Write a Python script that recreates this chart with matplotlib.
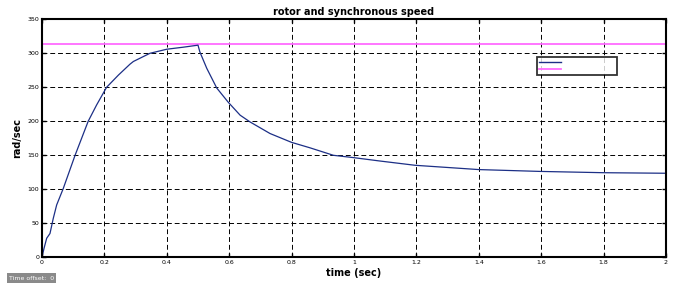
import numpy as np
import matplotlib
matplotlib.use("Agg")
from matplotlib import pyplot as plt
from matplotlib.lines import Line2D

# values
t_rotor = [0.0, 0.0064, 0.015, 0.0256, 0.036, 0.047, 0.068, 0.106, 0.127, 0.148,
           0.175, 0.207, 0.245, 0.282, 0.293, 0.346, 0.40, 0.453, 0.496, 0.50,
           0.506, 0.528, 0.56, 0.597, 0.635, 0.667, 0.731, 0.80, 0.859, 0.934,
           1.0, 1.083, 1.196, 1.40, 1.596, 1.80, 2.0]
w_rotor = [0, 13, 28, 35, 57, 77, 101, 150, 175, 200,
           224, 250, 268, 284, 288, 300, 306, 309, 311.7, 312,
           302, 278, 249, 228, 209, 199, 182, 169, 161, 150,
           146.5, 141.6, 135.3, 129, 126.3, 124.4, 123.6]
t_sync = [0.0, 2.0]
w_sync = [314.16, 314.16]

xticks = [0, 0.2, 0.4, 0.6, 0.8, 1, 1.2, 1.4, 1.6, 1.8, 2]
xticklabels = ["0", "0.2", "0.4", "0.6", "0.8", "1", "1.2", "1.4", "1.6", "1.8", "2"]
yticks = [0, 50, 100, 150, 200, 250, 300, 350]

blue = "#1c2f86"
pink = "#ff6bff"

fig = plt.figure(figsize=(6.75, 2.84), dpi=100)
ax = fig.add_axes([42/675, 1-257.3/284, 624/675, 238/284])

ax.plot(t_sync, w_sync, color=pink, lw=1.3)
ax.plot(t_rotor, w_rotor, color=blue, lw=0.9)

ax.set_xlim(0, 2)
ax.set_ylim(0, 350)
ax.set_xticks(xticks)
ax.set_xticklabels(xticklabels)
ax.set_yticks(yticks)
ax.tick_params(direction="in", length=3, width=1, labelsize=4.5, pad=2,
               top=True, right=True)
ax.grid(True, color="black", ls=(0, (5, 3)), lw=0.7)
for s in ax.spines.values():
    s.set_linewidth(1.5)

ax.set_title("rotor and synchronous speed", fontsize=7, fontweight="bold", pad=3)
ax.set_xlabel("time (sec)", fontsize=7, fontweight="bold", labelpad=2)
ax.set_ylabel("rad/sec", fontsize=7, fontweight="bold", labelpad=4)

# empty legend box with two line samples
handles = [Line2D([], [], color=blue, lw=1.0), Line2D([], [], color=pink, lw=1.3)]
leg = ax.legend(handles, ["", ""], loc="upper left",
                bbox_to_anchor=((536.7-42)/624, (257.3-57.3)/238, (616.7-536.7)/624, 0),
                mode="expand", fontsize=4, frameon=True, fancybox=False,
                handlelength=4, handletextpad=0, borderpad=0.45, labelspacing=0.45,
                borderaxespad=0)
leg.get_frame().set_edgecolor("black")
leg.get_frame().set_linewidth(1.3)

# "Time offset" box at the bottom left
fig.text(9/675, 1-278/284, "Time offset:  0", fontsize=4.5, color="white",
         va="center", ha="left",
         bbox=dict(boxstyle="square,pad=0.35", fc="#8a8a8a", ec="none"))

fig.savefig("out.png", dpi=100)
